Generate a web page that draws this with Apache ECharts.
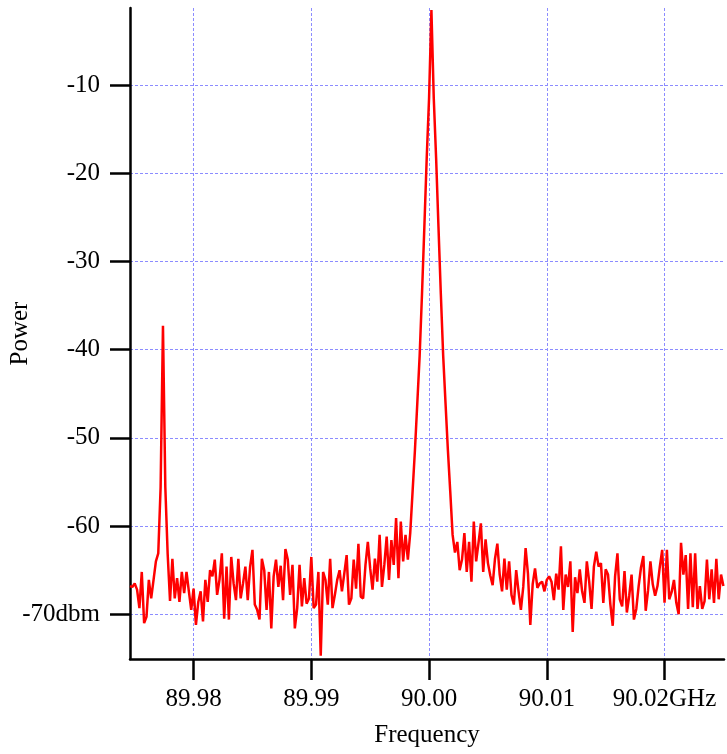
<!DOCTYPE html>
<html>
<head>
<meta charset="utf-8">
<script src="https://cdn.jsdelivr.net/npm/echarts@6/dist/echarts.min.js"></script>
<style>
    html, body { margin: 0; padding: 0; background: #fff; }
    #chart { width: 727px; height: 754px; }
</style>
</head>
<body>
<div id="chart"></div>
<script>
// spectrum sample grid (GHz)
const FREQ_START = 89.9746;
const FREQ_STEP = 0.0002;

// power, dBm, one value per sample
const power = [
    -66.8, -66.9, -66.5, -67.2, -69.3, -65.2, -71.0, -70.3, -66.1, -68.2,
    -66.1, -64.0, -63.1, -55.6, -37.3, -55.6, -63.2, -68.5, -63.7, -68.2,
    -65.9, -68.6, -65.2, -67.6, -65.2, -67.4, -69.5, -67.1, -71.2, -68.6,
    -67.4, -70.8, -66.1, -68.6, -65.0, -65.7, -63.8, -67.8, -66.1, -63.1,
    -70.5, -64.6, -70.6, -63.5, -66.5, -68.4, -63.7, -68.2, -66.5, -64.6,
    -68.4, -64.6, -62.7, -68.9, -69.5, -70.6, -63.7, -65.0, -69.5, -65.2,
    -71.6, -65.7, -63.8, -66.9, -64.5, -68.4, -62.6, -63.8, -67.8, -64.4,
    -71.6, -69.3, -64.4, -69.1, -65.9, -68.8, -68.2, -63.5, -69.3, -68.9,
    -65.2, -74.7, -65.2, -66.1, -68.9, -63.7, -69.3, -67.8, -66.1, -65.0,
    -67.4, -65.4, -63.3, -68.9, -68.2, -63.8, -67.1, -62.0, -68.0, -68.2,
    -64.4, -61.8, -64.8, -67.2, -63.7, -66.3, -61.0, -66.9, -64.4, -61.2,
    -66.1, -61.6, -64.4, -59.1, -65.9, -59.5, -64.0, -61.0, -63.8, -60.8,
    -56.1, -51.4, -46.1, -40.7, -33.7, -26.1, -18.3, -11.5, -1.5, -11.5,
    -18.3, -26.1, -33.7, -40.7, -46.1, -51.4, -56.1, -61.0, -63.0, -61.8,
    -65.0, -63.8, -60.8, -65.2, -61.8, -66.3, -59.5, -64.0, -61.9, -59.7,
    -65.2, -61.5, -64.2, -65.6, -66.7, -63.7, -62.0, -65.5, -67.4, -63.7,
    -67.2, -64.0, -67.8, -68.9, -65.0, -67.4, -69.5, -66.9, -62.5, -65.4,
    -71.2, -66.6, -64.8, -67.0, -66.5, -66.3, -67.4, -66.1, -65.7, -66.3,
    -68.4, -65.4, -67.2, -62.3, -69.5, -65.5, -66.9, -64.0, -72.0, -65.8,
    -67.6, -64.9, -67.4, -68.7, -64.0, -66.3, -69.4, -64.6, -62.9, -64.6,
    -64.2, -68.7, -64.9, -65.5, -68.9, -71.3, -65.7, -63.1, -68.3, -69.1,
    -65.1, -69.8, -67.9, -65.5, -70.6, -69.4, -66.8, -64.7, -63.4, -69.6,
    -67.3, -64.0, -66.6, -67.9, -66.8, -64.6, -62.7, -68.7, -62.7, -68.3,
    -67.5, -66.1, -68.7, -70.0, -61.9, -65.5, -63.3, -69.4, -63.1, -69.2,
    -63.1, -69.4, -66.8, -69.4, -68.5, -63.8, -68.3, -64.9, -68.7, -63.7,
    -68.3, -65.5, -66.8
];

const freqTicks = [89.98, 89.99, 90.00, 90.01, 90.02];
const powerTicks = [-70, -60, -50, -40, -30, -20, -10];

const FONT = "'Liberation Serif', 'DejaVu Serif', serif";
const gridLine = { show: true, lineStyle: { color: '#8c8cff', width: 1, type: [3, 2] } };

const chart = echarts.init(document.getElementById('chart'));

chart.setOption({
    backgroundColor: '#fff',
    animation: false,
    textStyle: { fontFamily: FONT },
    grid: { left: 130, right: 3, top: 8, bottom: 95, containLabel: false, outerBoundsMode: 'none' },
    xAxis: {
        type: 'value',
        min: 89.9746,
        max: 90.02505,
        name: 'Frequency',
        nameLocation: 'middle',
        nameGap: 64,
        nameMoveOverlap: false,
        nameTextStyle: { fontFamily: FONT, fontSize: 25, color: '#000', verticalAlign: 'top' },
        axisLine: { lineStyle: { color: '#000', width: 2.5 } },
        axisTick: { customValues: freqTicks, length: 21, lineStyle: { color: '#000', width: 2.5 } },
        axisLabel: {
            customValues: freqTicks,
            margin: 28,
            fontFamily: FONT,
            fontSize: 25,
            color: '#000',
            formatter: v => v.toFixed(2) + (Math.abs(v - 90.02) < 1e-6 ? 'GHz' : '')
        },
        splitLine: gridLine
    },
    yAxis: {
        type: 'value',
        min: -75.07,
        max: -1.27,
        name: 'Power',
        nameLocation: 'middle',
        nameGap: 97,
        nameMoveOverlap: false,
        nameTextStyle: { fontFamily: FONT, fontSize: 25, color: '#000' },
        axisLine: { show: true, lineStyle: { color: '#000', width: 2.5 } },
        axisTick: { show: true, customValues: powerTicks, length: 20, lineStyle: { color: '#000', width: 2.5 } },
        axisLabel: {
            customValues: powerTicks,
            margin: 30,
            fontFamily: FONT,
            fontSize: 25,
            color: '#000',
            formatter: v => v === -70 ? '-70dbm' : String(v)
        },
        splitLine: gridLine
    },
    series: [{
        type: 'line',
        data: power.map((p, i) => [FREQ_START + i * FREQ_STEP, p]),
        showSymbol: false,
        clip: true,
        lineStyle: { color: '#ff0000', width: 2.5 }
    }]
});
</script>
</body>
</html>
